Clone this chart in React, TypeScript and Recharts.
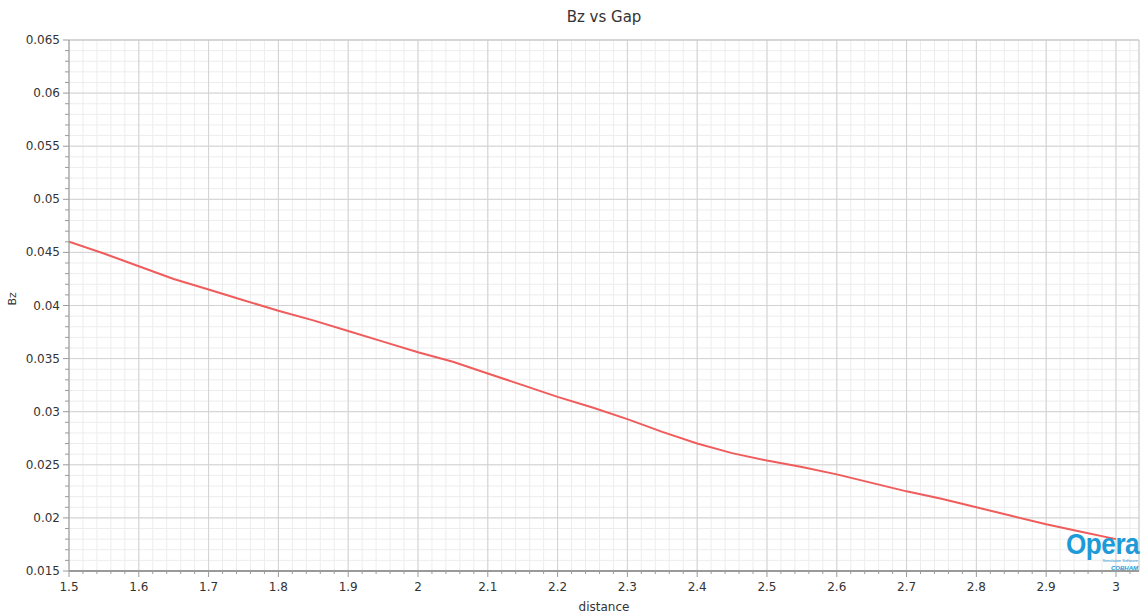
import React from 'react'
import { LineChart, Line, XAxis, YAxis, CartesianGrid, ReferenceLine, Label } from 'recharts'

// values
const DISTANCE = [
  1.5, 1.55, 1.6, 1.65, 1.7, 1.75, 1.8, 1.85, 1.9, 1.95, 2.0, 2.05, 2.1, 2.15, 2.2, 2.25,
  2.3, 2.35, 2.4, 2.45, 2.5, 2.55, 2.6, 2.65, 2.7, 2.75, 2.8, 2.85, 2.9, 2.95, 3.0,
]
const BZ = [
  0.046, 0.0449, 0.0437, 0.0425, 0.0415, 0.0405, 0.0395, 0.0386, 0.0376, 0.0366, 0.0356,
  0.0347, 0.0336, 0.0325, 0.0314, 0.0304, 0.0293, 0.0281, 0.027, 0.0261, 0.0254, 0.0248,
  0.0241, 0.0233, 0.0225, 0.0218, 0.021, 0.0202, 0.0194, 0.0187, 0.018,
]

const X_MAJOR = [1.5, 1.6, 1.7, 1.8, 1.9, 2.0, 2.1, 2.2, 2.3, 2.4, 2.5, 2.6, 2.7, 2.8, 2.9, 3.0]
const X_MINOR = Array.from({ length: 77 }, (_, i) => +(1.5 + i * 0.02).toFixed(2))
const Y_MAJOR = [0.015, 0.02, 0.025, 0.03, 0.035, 0.04, 0.045, 0.05, 0.055, 0.06, 0.065]
const Y_MINOR = Array.from({ length: 51 }, (_, i) => +(0.015 + i * 0.001).toFixed(3))
const X_MAX = 3.033

const FONT = "'DejaVu Sans', Verdana, sans-serif"
const AXIS = '#9a9a9a'

const data = DISTANCE.map((d, i) => ({ distance: d, bz: BZ[i] }))

const isMajor = (list: number[], v: number) => list.some((m) => Math.abs(m - v) < 1e-7)

const fmt = (v: number) => String(Number(v.toFixed(3)))

function XTick(props: any) {
  const { x, y, payload } = props
  const major = isMajor(X_MAJOR, payload.value)
  return (
    <g>
      <line x1={x} x2={x} y1={y} y2={y + (major ? 6 : 3)} stroke={AXIS} />
      {major && (
        <text x={x} y={y + 20} textAnchor="middle" fontSize={12} fill="#333" fontFamily={FONT}>
          {fmt(payload.value)}
        </text>
      )}
    </g>
  )
}

function YTick(props: any) {
  const { x, y, payload } = props
  const major = isMajor(Y_MAJOR, payload.value)
  return (
    <g>
      <line x1={x - (major ? 6 : 4)} x2={x} y1={y} y2={y} stroke={AXIS} />
      {major && (
        <text x={x - 9} y={y + 4} textAnchor="end" fontSize={12} fill="#333" fontFamily={FONT}>
          {fmt(payload.value)}
        </text>
      )}
    </g>
  )
}

export default function App() {
  return (
    <div style={{ position: 'absolute', left: 0, top: 0, width: 1143, height: 616, background: '#fff' }}>
      <div
        style={{
          position: 'absolute',
          left: 0,
          width: 1208,
          top: 8,
          textAlign: 'center',
          fontFamily: FONT,
          fontSize: 15,
          color: '#333',
        }}
      >
        Bz vs Gap
      </div>
      <LineChart width={1143} height={616} data={data} margin={{ top: 40, right: 4, left: 0, bottom: 0 }}>
        <CartesianGrid stroke="#ededed" />
        {X_MAJOR.map((v) => (
          <ReferenceLine key={'x' + v} x={v} stroke="#d2d2d2" />
        ))}
        {Y_MAJOR.map((v) => (
          <ReferenceLine key={'y' + v} y={v} stroke="#d2d2d2" />
        ))}
        <ReferenceLine x={X_MAX} stroke="#c8c8c8" />
        <ReferenceLine y={0.065} stroke="#c8c8c8" />
        <XAxis
          dataKey="distance"
          type="number"
          domain={[1.5, X_MAX]}
          ticks={X_MINOR}
          interval={0}
          allowDataOverflow
          height={45}
          tickSize={0}
          tickMargin={0}
          tickLine={false}
          tick={<XTick />}
          stroke={AXIS}
          strokeWidth={2}
        >
          <Label value="distance" position="insideBottom" offset={5} fontSize={12} fill="#333" fontFamily={FONT} />
        </XAxis>
        <YAxis
          type="number"
          domain={[0.015, 0.065]}
          ticks={Y_MINOR}
          interval={0}
          allowDataOverflow
          width={69}
          tickSize={0}
          tickMargin={0}
          tickLine={false}
          tick={<YTick />}
          stroke={AXIS}
        >
          <Label value="Bz" angle={-90} position="insideLeft" offset={12} fontSize={11} fill="#333" fontFamily={FONT} />
        </YAxis>
        <Line
          type="linear"
          dataKey="bz"
          stroke="#f05c5c"
          strokeWidth={2}
          dot={false}
          isAnimationActive={false}
        />
      </LineChart>
      <div
        style={{
          position: 'absolute',
          left: 1058,
          top: 530,
          width: 80,
          textAlign: 'right',
          color: '#1d9ad8',
          fontFamily: "'Liberation Sans', Arial, sans-serif",
          lineHeight: 1,
        }}
      >
        <div
          style={{
            fontSize: 29,
            fontWeight: 'bold',
            letterSpacing: -0.5,
            transform: 'scaleX(0.9)',
            transformOrigin: 'right center',
            whiteSpace: 'nowrap',
          }}
        >
          Opera
        </div>
        <div style={{ fontSize: 4, whiteSpace: 'nowrap' }}>Simulation Software</div>
        <div style={{ fontSize: 6, fontStyle: 'italic', fontWeight: 'bold', marginTop: 2 }}>COBHAM</div>
      </div>
    </div>
  )
}
